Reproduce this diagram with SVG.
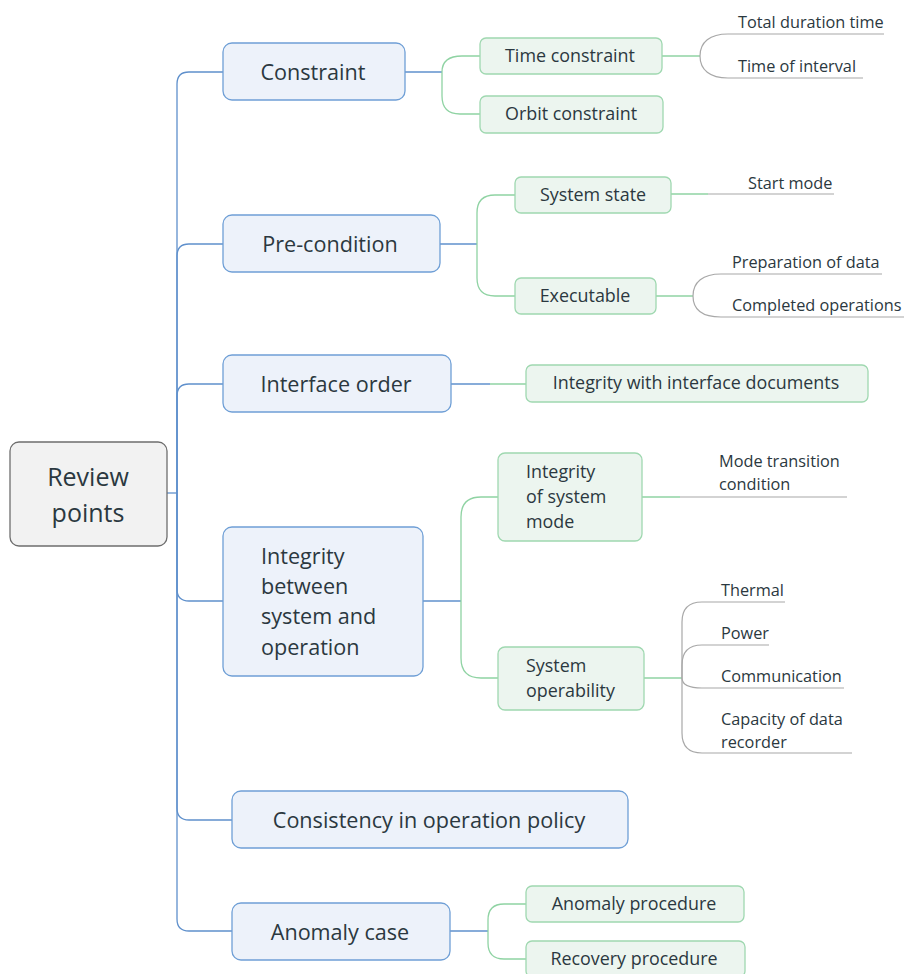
<svg xmlns="http://www.w3.org/2000/svg" width="909" height="974" viewBox="0 0 909 974">
  <style>
    text { font-family: "Open Sans", "Noto Sans", "Liberation Sans", sans-serif; fill: #2b3840; }
    .root rect { fill: #f2f2f2; stroke: #6e6e6e; stroke-width: 1.3; }
    .main rect { fill: #edf2fa; stroke: #6f9fd6; stroke-width: 1.3; }
    .sub rect { fill: #ecf5ef; stroke: #9fd8b0; stroke-width: 1.3; }
    .root text { font-size: 25px; }
    .main text { font-size: 21.6px; }
    .sub text { font-size: 17.9px; }
    .leaf text { font-size: 16.3px; }
    .c { text-anchor: middle; }
    .blue { fill: none; stroke: #5f90cc; stroke-width: 1.3; }
    .green { fill: none; stroke: #8fd3a3; stroke-width: 1.3; }
    .gray { fill: none; stroke: #a8a8a8; stroke-width: 1.2; }
  </style>

  <!-- connectors -->
  <g id="connectors">
    <!-- trunk from the root -->
    <path class="blue" d="M167,493 H177"/>
    <path class="blue" d="M177,493 V84 Q177,72 189,72 H223"/>
    <path class="blue" d="M177,493 V256 Q177,244 189,244 H223"/>
    <path class="blue" d="M177,493 V396 Q177,384 189,384 H223"/>
    <path class="blue" d="M177,493 V589 Q177,601 189,601 H223"/>
    <path class="blue" d="M177,493 V808 Q177,820 189,820 H232"/>
    <path class="blue" d="M177,493 V919 Q177,931 189,931 H232"/>

    <!-- Constraint -->
    <path class="blue" d="M405,72 H442"/>
    <path class="green" d="M442,72 C442,61 449,56 462,56 H480"/>
    <path class="green" d="M442,72 V96 Q442,114 460,114 H480"/>
    <path class="green" d="M662,56 H700"/>
    <path class="gray" d="M700,56 C700,42 710,34 728,34 H884"/>
    <path class="gray" d="M700,56 C700,70 710,78 728,78 H863"/>

    <!-- Pre-condition -->
    <path class="blue" d="M440,244 H477"/>
    <path class="green" d="M477,244 V213 Q477,195 495,195 H515"/>
    <path class="green" d="M477,244 V278 Q477,296 495,296 H515"/>
    <path class="green" d="M671,194 H708"/>
    <path class="gray" d="M708,194 H834"/>
    <path class="green" d="M656,296 H693"/>
    <path class="gray" d="M693,296 C693,282 703,274 721,274 H882"/>
    <path class="gray" d="M693,296 C693,310 703,317 721,317 H904"/>

    <!-- Interface order -->
    <path class="blue" d="M451,384 H490"/>
    <path class="green" d="M490,384 H526"/>

    <!-- Integrity between system and operation -->
    <path class="blue" d="M423,601 H461"/>
    <path class="green" d="M461,601 V517 Q461,497 481,497 H498"/>
    <path class="green" d="M461,601 V658 Q461,678 481,678 H498"/>
    <path class="green" d="M642,497 H680"/>
    <path class="gray" d="M680,497 H847"/>
    <path class="green" d="M644,678 H682"/>
    <path class="gray" d="M682,678 V622 Q682,602 702,602 H785"/>
    <path class="gray" d="M682,678 V665 Q682,645 702,645 H769"/>
    <path class="gray" d="M682,678 Q682,688 702,688 H844"/>
    <path class="gray" d="M682,678 V733 Q682,753 702,753 H852"/>

    <!-- Anomaly case -->
    <path class="blue" d="M450,931 H488"/>
    <path class="green" d="M488,931 V920 Q488,904 504,904 H526"/>
    <path class="green" d="M488,931 V943 Q488,959 504,959 H526"/>
  </g>

  <!-- root -->
  <g id="review-points" class="root">
    <rect x="10" y="442" width="157" height="104" rx="9"/>
    <text class="c" x="88" y="486">Review</text>
    <text class="c" x="88" y="522">points</text>
  </g>

  <!-- main topics -->
  <g id="constraint" class="main">
    <rect x="223" y="43" width="182" height="57" rx="9"/>
    <text class="c" x="313" y="80">Constraint</text>
  </g>
  <g id="pre-condition" class="main">
    <rect x="223" y="215" width="217" height="57" rx="9"/>
    <text class="c" x="330" y="252">Pre-condition</text>
  </g>
  <g id="interface-order" class="main">
    <rect x="223" y="355" width="228" height="57" rx="9"/>
    <text class="c" x="336" y="392">Interface order</text>
  </g>
  <g id="integrity-system-operation" class="main">
    <rect x="223" y="527" width="200" height="149" rx="9"/>
    <text x="261" y="564">Integrity</text>
    <text x="261" y="594">between</text>
    <text x="261" y="624">system and</text>
    <text x="261" y="655">operation</text>
  </g>
  <g id="consistency" class="main">
    <rect x="232" y="791" width="396" height="57" rx="9"/>
    <text class="c" x="429" y="828">Consistency in operation policy</text>
  </g>
  <g id="anomaly-case" class="main">
    <rect x="232" y="903" width="218" height="57" rx="9"/>
    <text class="c" x="340" y="940">Anomaly case</text>
  </g>

  <!-- sub topics -->
  <g id="time-constraint" class="sub">
    <rect x="480" y="38" width="182" height="36" rx="6"/>
    <text class="c" x="570" y="62">Time constraint</text>
  </g>
  <g id="orbit-constraint" class="sub">
    <rect x="480" y="96" width="183" height="37" rx="6"/>
    <text class="c" x="571" y="120">Orbit constraint</text>
  </g>
  <g id="system-state" class="sub">
    <rect x="515" y="177" width="156" height="36" rx="6"/>
    <text class="c" x="593" y="201">System state</text>
  </g>
  <g id="executable" class="sub">
    <rect x="515" y="278" width="141" height="36" rx="6"/>
    <text class="c" x="585" y="302">Executable</text>
  </g>
  <g id="interface-documents" class="sub">
    <rect x="526" y="365" width="342" height="37" rx="6"/>
    <text class="c" x="696" y="389">Integrity with interface documents</text>
  </g>
  <g id="integrity-system-mode" class="sub">
    <rect x="498" y="453" width="144" height="88" rx="7"/>
    <text x="526" y="478">Integrity</text>
    <text x="526" y="503">of system</text>
    <text x="526" y="528">mode</text>
  </g>
  <g id="system-operability" class="sub">
    <rect x="498" y="647" width="146" height="63" rx="7"/>
    <text x="526" y="672">System</text>
    <text x="526" y="697">operability</text>
  </g>
  <g id="anomaly-procedure" class="sub">
    <rect x="526" y="886" width="218" height="36" rx="6"/>
    <text class="c" x="634" y="910">Anomaly procedure</text>
  </g>
  <g id="recovery-procedure" class="sub">
    <rect x="526" y="941" width="219" height="36" rx="6"/>
    <text class="c" x="634" y="965">Recovery procedure</text>
  </g>

  <!-- leaves -->
  <g id="total-duration-time" class="leaf"><text x="738" y="28">Total duration time</text></g>
  <g id="time-of-interval" class="leaf"><text x="738" y="72">Time of interval</text></g>
  <g id="start-mode" class="leaf"><text x="748" y="189">Start mode</text></g>
  <g id="preparation-of-data" class="leaf"><text x="732" y="268">Preparation of data</text></g>
  <g id="completed-operations" class="leaf"><text x="732" y="311">Completed operations</text></g>
  <g id="mode-transition-condition" class="leaf">
    <text x="719" y="467">Mode transition</text>
    <text x="719" y="490">condition</text>
  </g>
  <g id="thermal" class="leaf"><text x="721" y="596">Thermal</text></g>
  <g id="power" class="leaf"><text x="721" y="639">Power</text></g>
  <g id="communication" class="leaf"><text x="721" y="682">Communication</text></g>
  <g id="capacity-data-recorder" class="leaf">
    <text x="721" y="725">Capacity of data</text>
    <text x="721" y="748">recorder</text>
  </g>
</svg>
